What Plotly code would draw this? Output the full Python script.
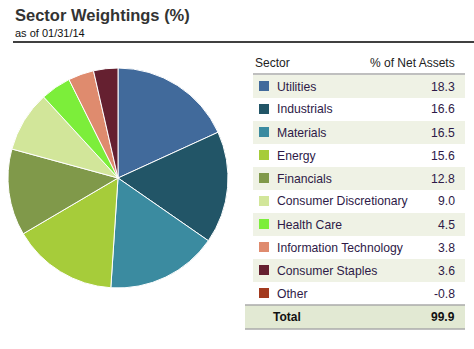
import plotly.graph_objects as go

W, H = 474, 349

sectors = ["Utilities", "Industrials", "Materials", "Energy", "Financials",
           "Consumer Discretionary", "Health Care", "Information Technology",
           "Consumer Staples", "Other"]
weights = [18.3, 16.6, 16.5, 15.6, 12.8, 9.0, 4.5, 3.8, 3.6, -0.8]
colors = ["#416A9B", "#225567", "#3B8BA0", "#A6CC3A", "#80994A",
          "#D2E69A", "#7CEE3A", "#DF8B6E", "#652030", "#A33A1E"]
total_label = "Total"
total_value = 99.9
title_text = "Sector Weightings (%)"
subtitle_text = "as of 01/31/14"
header_cols = ["Sector", "% of Net Assets"]


def px(x):
    return x / W


def py(y):
    return 1 - y / H


pie_labels = [s for s, v in zip(sectors, weights) if v > 0]
pie_values = [v for v in weights if v > 0]
pie_colors = [c for c, v in zip(colors, weights) if v > 0]

fig = go.Figure()
fig.add_trace(go.Pie(
    labels=pie_labels, values=pie_values, sort=False, direction="clockwise",
    rotation=0, textinfo="none", hoverinfo="label+value",
    marker=dict(colors=pie_colors, line=dict(color="white", width=1)),
    domain=dict(x=[px(8), px(228)], y=[py(288), py(68)]),
    showlegend=False,
))

shapes = []
ann = []
FONT = "Liberation Sans, Arial, sans-serif"
TXT = "#2e1a47"

# title
ann.append(dict(x=px(13), y=py(15), text="<b>%s</b>" % title_text, xref="paper", yref="paper",
                xanchor="left", yanchor="middle", showarrow=False,
                font=dict(family=FONT, size=16.5, color="#333333")))
ann.append(dict(x=px(13), y=py(33), text=subtitle_text, xref="paper", yref="paper",
                xanchor="left", yanchor="middle", showarrow=False,
                font=dict(family=FONT, size=11, color="#111111")))
shapes.append(dict(type="line", xref="paper", yref="paper", x0=px(13), x1=px(474),
                   y0=py(42), y1=py(42), line=dict(color="#000000", width=1.5)))

# header
ann.append(dict(x=px(253), y=py(63), text=header_cols[0], xref="paper", yref="paper",
                xanchor="left", yanchor="middle", showarrow=False,
                font=dict(family=FONT, size=12, color="#222222")))
ann.append(dict(x=px(457), y=py(63), text=header_cols[1], xref="paper", yref="paper",
                xanchor="right", yanchor="middle", showarrow=False,
                font=dict(family=FONT, size=12, color="#222222")))
shapes.append(dict(type="line", xref="paper", yref="paper", x0=px(253), x1=px(465),
                   y0=py(74), y1=py(74), line=dict(color="#AAAAAA", width=1.5)))

row_h = 23
top = 75
for i, (s, v, c) in enumerate(zip(sectors, weights, colors)):
    y0 = top + i * row_h
    yc = y0 + row_h / 2
    if i % 2 == 0:
        shapes.append(dict(type="rect", xref="paper", yref="paper", x0=px(253), x1=px(465),
                           y0=py(y0 + row_h), y1=py(y0), fillcolor="#EFF2E5",
                           line=dict(width=0), layer="below"))
    shapes.append(dict(type="rect", xref="paper", yref="paper", x0=px(259), x1=px(269),
                       y0=py(yc + 4.5), y1=py(yc - 5.5), fillcolor=c, line=dict(width=0)))
    ann.append(dict(x=px(275), y=py(yc), text=s, xref="paper", yref="paper",
                    xanchor="left", yanchor="middle", showarrow=False,
                    font=dict(family=FONT, size=12.2, color=TXT)))
    ann.append(dict(x=px(457), y=py(yc), text="%.1f" % v, xref="paper", yref="paper",
                    xanchor="right", yanchor="middle", showarrow=False,
                    font=dict(family=FONT, size=12.2, color=TXT)))

# total row
ty0 = 305
ty1 = 329
shapes.append(dict(type="rect", xref="paper", yref="paper", x0=px(245), x1=px(465),
                   y0=py(ty1), y1=py(ty0), fillcolor="#E2E9D3", line=dict(width=0), layer="below"))
shapes.append(dict(type="line", xref="paper", yref="paper", x0=px(245), x1=px(465),
                   y0=py(ty0), y1=py(ty0), line=dict(color="#AAAAAA", width=1.5)))
shapes.append(dict(type="line", xref="paper", yref="paper", x0=px(245), x1=px(465),
                   y0=py(ty1), y1=py(ty1), line=dict(color="#AAAAAA", width=1.5)))
ann.append(dict(x=px(271), y=py(317), text="<b>%s</b>" % total_label, xref="paper", yref="paper",
                xanchor="left", yanchor="middle", showarrow=False,
                font=dict(family=FONT, size=12, color="#111111")))
ann.append(dict(x=px(457), y=py(317), text="<b>%.1f</b>" % total_value, xref="paper", yref="paper",
                xanchor="right", yanchor="middle", showarrow=False,
                font=dict(family=FONT, size=12, color="#111111")))

fig.update_layout(width=W, height=H, margin=dict(l=0, r=0, t=0, b=0),
                  paper_bgcolor="white", plot_bgcolor="white",
                  shapes=shapes, annotations=ann, showlegend=False)
fig.write_html("out.html", config={"displayModeBar": False})
